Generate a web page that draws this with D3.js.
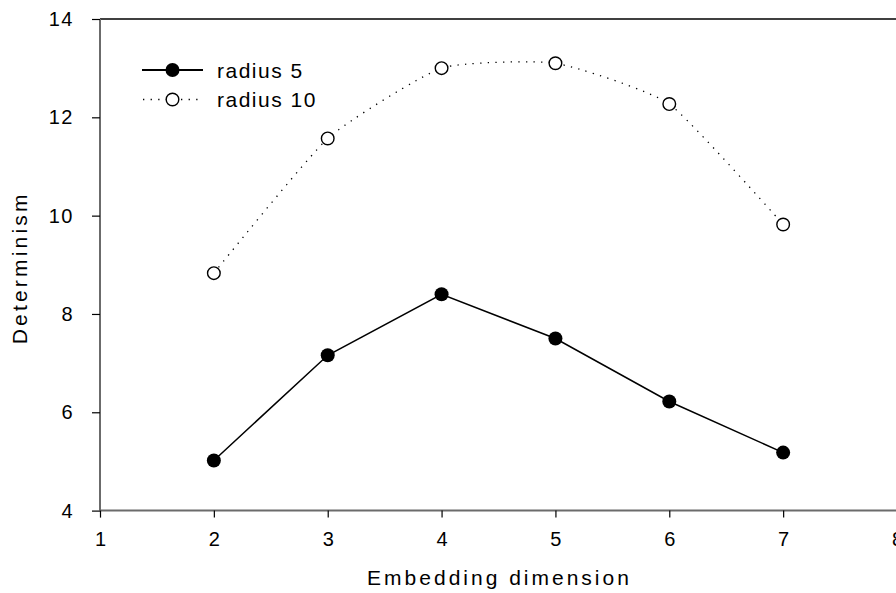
<!DOCTYPE html>
<html>
<head>
<meta charset="utf-8">
<script src="https://cdn.jsdelivr.net/npm/d3@7"></script>
<style>
  html, body { margin: 0; padding: 0; background: #fff; }
  svg { display: block; font-family: "Liberation Sans", Arial, sans-serif; }
</style>
</head>
<body>
<svg id="chart" width="896" height="593"></svg>
<script>
const dims = [2, 3, 4, 5, 6, 7];
const radius5 = [5.02, 7.16, 8.40, 7.50, 6.22, 5.18];
const radius10 = [8.83, 11.57, 13.00, 13.10, 12.27, 9.82];
const xTicks = [1, 2, 3, 4, 5, 6, 7, 8];
const yTicks = [4, 6, 8, 10, 12, 14];
const seriesNames = ["radius 5", "radius 10"];

const svg = d3.select("#chart");
const x = d3.scaleLinear().domain([1, 8]).range([100, 897]);
const y = d3.scaleLinear().domain([4, 14]).range([510.6, 19]);

const axisColor = "#6b6b6b";
const tickLS = 1.5;

// top frame line
svg.append("line")
  .attr("x1", x(1)).attr("x2", x(8)).attr("y1", y(14)).attr("y2", y(14))
  .attr("stroke", "#000").attr("stroke-width", 1.3);

// Y axis
const yAxis = svg.append("g").attr("transform", `translate(${x(1)},0)`)
  .call(d3.axisLeft(y).tickValues(yTicks).tickSize(8).tickPadding(18).tickFormat(d3.format("d")));
yAxis.select(".domain").attr("stroke", axisColor).attr("stroke-width", 2).attr("d", `M0,${y(4)}V${y(14)}`);
yAxis.selectAll(".tick line").attr("stroke", "#000").attr("stroke-width", 1.2);
yAxis.selectAll(".tick text").attr("font-size", 20).attr("fill", "#000").attr("letter-spacing", tickLS)
  .attr("font-family", "Liberation Sans, Arial, sans-serif");

// X axis
const xAxis = svg.append("g").attr("transform", `translate(0,${y(4)})`)
  .call(d3.axisBottom(x).tickValues(xTicks).tickSize(7).tickPadding(14).tickFormat(d3.format("d")));
xAxis.select(".domain").attr("stroke", axisColor).attr("stroke-width", 2).attr("d", `M${x(1)},0H${x(8)}`);
xAxis.selectAll(".tick line").attr("stroke", "#000").attr("stroke-width", 1.2);
xAxis.selectAll(".tick text").attr("font-size", 20).attr("fill", "#000")
  .attr("font-family", "Liberation Sans, Arial, sans-serif");

// axis titles
svg.append("text")
  .attr("x", (x(1) + x(8)) / 2 + 1).attr("y", 585)
  .attr("text-anchor", "middle").attr("font-size", 21).attr("letter-spacing", 3)
  .text("Embedding dimension");
svg.append("text")
  .attr("transform", `translate(27,${(y(4) + y(14)) / 2 + 3}) rotate(-90)`)
  .attr("text-anchor", "middle").attr("font-size", 21).attr("letter-spacing", 3.2)
  .text("Determinism");

const pts5 = dims.map((d, i) => [d, radius5[i]]);
const pts10 = dims.map((d, i) => [d, radius10[i]]);

// radius 10 dotted spline
svg.append("path")
  .attr("d", d3.line().x(d => x(d[0])).y(d => y(d[1])).curve(d3.curveCardinal.tension(0.5))(pts10))
  .attr("fill", "none").attr("stroke", "#000").attr("stroke-width", 1.3)
  .attr("stroke-dasharray", "1.3,6.3");

// radius 5 solid line
svg.append("path")
  .attr("d", d3.line().x(d => x(d[0])).y(d => y(d[1]))(pts5))
  .attr("fill", "none").attr("stroke", "#000").attr("stroke-width", 1.5);

svg.selectAll("circle.r10").data(pts10).enter().append("circle")
  .attr("class", "r10")
  .attr("cx", d => x(d[0])).attr("cy", d => y(d[1])).attr("r", 6.3)
  .attr("fill", "#fff").attr("stroke", "#000").attr("stroke-width", 1.4);

svg.selectAll("circle.r5").data(pts5).enter().append("circle")
  .attr("class", "r5")
  .attr("cx", d => x(d[0])).attr("cy", d => y(d[1])).attr("r", 7)
  .attr("fill", "#000");

// legend
const lg = svg.append("g");
const rowsY = [70, 99.5];
lg.append("line").attr("x1", 142).attr("x2", 203).attr("y1", rowsY[0]).attr("y2", rowsY[0])
  .attr("stroke", "#000").attr("stroke-width", 1.8);
lg.append("circle").attr("cx", 172.5).attr("cy", rowsY[0]).attr("r", 7).attr("fill", "#000");
lg.append("line").attr("x1", 143).attr("x2", 203).attr("y1", rowsY[1]).attr("y2", rowsY[1])
  .attr("stroke", "#000").attr("stroke-width", 1.3).attr("stroke-dasharray", "1.3,6.3");
lg.append("circle").attr("cx", 172.5).attr("cy", rowsY[1]).attr("r", 6.3)
  .attr("fill", "#fff").attr("stroke", "#000").attr("stroke-width", 1.4);
lg.selectAll("text.lt").data(seriesNames).enter().append("text")
  .attr("class", "lt")
  .attr("x", 217).attr("y", (d, i) => rowsY[i] + 7.5)
  .attr("font-size", 21).attr("letter-spacing", 1.5)
  .text(d => d);
</script>
</body>
</html>
